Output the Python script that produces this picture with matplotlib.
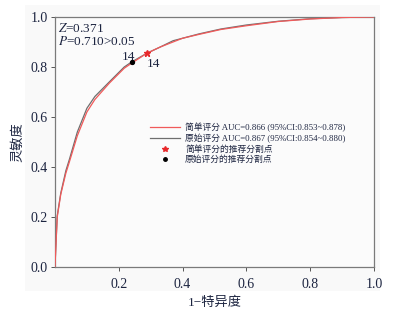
import matplotlib
matplotlib.use("Agg")
import matplotlib.pyplot as plt
from matplotlib.lines import Line2D
from matplotlib.patches import Rectangle

plt.rcParams['font.family'] = ['Liberation Serif', 'Noto Sans CJK SC']
plt.rcParams['mathtext.fontset'] = 'stix'

# Data
fpr_points = [0, 0.002, 0.007, 0.018, 0.034, 0.045, 0.07, 0.10, 0.125, 0.17, 0.217, 0.24, 0.288,
              0.33, 0.37, 0.40, 0.45, 0.52, 0.60, 0.70, 0.80, 0.90, 1.0]
simple_tpr = [0, 0.06, 0.20, 0.29, 0.375, 0.42, 0.525, 0.62, 0.67, 0.735, 0.795, 0.815, 0.855,
              0.88, 0.90, 0.915, 0.93, 0.95, 0.965, 0.982, 0.992, 0.998, 1.0]
orig_tpr = [0, 0.065, 0.205, 0.295, 0.385, 0.43, 0.54, 0.635, 0.682, 0.74, 0.80, 0.82, 0.855,
            0.88, 0.905, 0.915, 0.932, 0.952, 0.968, 0.983, 0.993, 0.998, 1.0]
simple_cut = (0.288, 0.855)
orig_cut = (0.24, 0.82)
cut_label = "14"
xticks = [0.2, 0.4, 0.6, 0.8, 1.0]
yticks = [0.0, 0.2, 0.4, 0.6, 0.8, 1.0]
legend_labels = ["简单评分 AUC=0.866 (95%CI:0.853~0.878)",
                 "原始评分 AUC=0.867 (95%CI:0.854~0.880)",
                 "简单评分的推荐分割点",
                 "原始评分的推荐分割点"]

tick_color = '#1c2440'
red = '#f05a5a'
gray = '#6e6e6e'

fig = plt.figure(figsize=(3.93, 3.2), dpi=100)
fig.patches.append(Rectangle((25/393, (320-291)/320), (380-25)/393, (291-5)/320,
                             transform=fig.transFigure, facecolor='#f9f9f9',
                             edgecolor='none', zorder=-10))
ax = fig.add_axes([55/393, (320-267)/320, (374-55)/393, (267-17)/320])
ax.set_facecolor('#fbfbfb')

ax.plot(fpr_points, orig_tpr, color=gray, lw=0.9, zorder=2)
ax.plot(fpr_points, simple_tpr, color=red, lw=0.9, zorder=3)
ax.plot(*simple_cut, marker='*', color='#e8282a', ms=5, ls='none', zorder=4)
ax.plot(*orig_cut, marker='o', color='black', ms=2.8, ls='none', zorder=4)
ax.annotate(cut_label, orig_cut, xytext=(-2.3, 1.5), textcoords='offset points',
            ha='center', va='baseline', fontsize=9.5, color=tick_color)
ax.annotate(cut_label, simple_cut, xytext=(0, -3.5), textcoords='offset points',
            ha='left', va='top', fontsize=9.5, color=tick_color)

ax.text(0.01, 0.941, "$\\mathit{Z}$=0.371", transform=ax.transAxes, fontsize=9.5,
        va='baseline', ha='left', color=tick_color)
ax.text(0.01, 0.888, "$\\mathit{P}$=0.710>0.05", transform=ax.transAxes, fontsize=9.5,
        va='baseline', ha='left', color=tick_color)

ax.set_xlim(0, 1)
ax.set_ylim(0, 1)
ax.set_xticks(xticks)
ax.set_xticklabels([f"{v:.1f}" for v in xticks])
ax.set_yticks(yticks)
ax.set_yticklabels([f"{v:.1f}" for v in yticks])
ax.tick_params(direction='out', length=3, width=0.7, colors='#555555',
               labelcolor=tick_color, labelsize=10, pad=2)
ax.tick_params(axis='x', pad=5)
for s in ax.spines.values():
    s.set_color('#7a7a7a')
    s.set_linewidth(0.9)

ax.set_xlabel("1−特异度", fontsize=9.5, color=tick_color, labelpad=4)
ax.set_ylabel("灵敏度", fontsize=9.5, color=tick_color, labelpad=5,
              family=['Noto Sans CJK SC'])

handles = [Line2D([], [], color=red, lw=0.9),
           Line2D([], [], color=gray, lw=0.9),
           Line2D([], [], color='#e8282a', marker='*', ms=4, ls='none'),
           Line2D([], [], color='black', marker='o', ms=2.5, ls='none')]
leg = ax.legend(handles, legend_labels, loc='upper left',
                bbox_to_anchor=(0.298, 0.577), frameon=False,
                prop={'size': 6.3},
                handlelength=3.4, handletextpad=0.6, labelspacing=0.2,
                borderpad=0, borderaxespad=0)
for t in leg.get_texts():
    t.set_color(tick_color)

fig.savefig("out.png", dpi=100)
